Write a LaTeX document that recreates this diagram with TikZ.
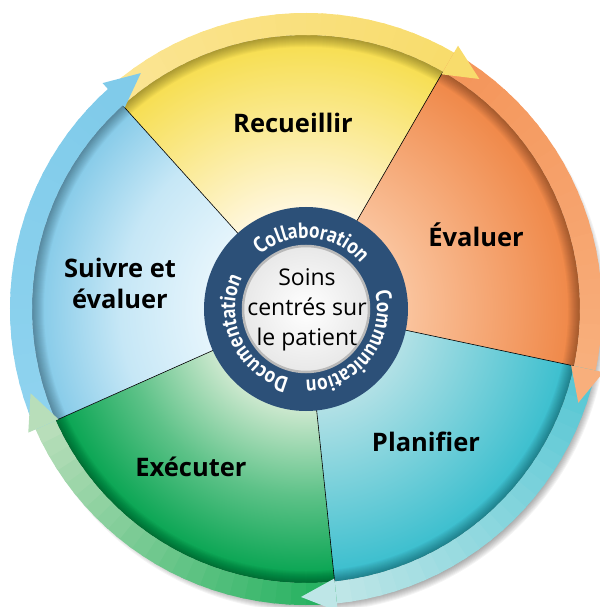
\documentclass[tikz,border=0pt]{standalone}
\usepackage{fontspec}
\setmainfont{Open Sans}
\newfontfamily\ringfont[FakeStretch=0.88]{PT Sans}
\usetikzlibrary{decorations.text}

\definecolor{recin}{HTML}{FFF7DF}
\definecolor{recout}{HTML}{F6DD4A}
\definecolor{evain}{HTML}{FAC49E}
\definecolor{evaout}{HTML}{EF8544}
\definecolor{plain}{HTML}{B3E1E6}
\definecolor{plaout}{HTML}{35BDCD}
\definecolor{exein}{HTML}{CFE9D0}
\definecolor{exeout}{HTML}{00A24D}
\definecolor{suiin}{HTML}{E6F5FC}
\definecolor{suimid}{HTML}{C6E7F6}
\definecolor{suiout}{HTML}{80C8E7}
\definecolor{rectail}{HTML}{FBE594}
\definecolor{rechead}{HTML}{F8DC6C}
\definecolor{evatail}{HTML}{F4955A}
\definecolor{evahead}{HTML}{F8AF7C}
\definecolor{platail}{HTML}{55C6D4}
\definecolor{plahead}{HTML}{BEE6E7}
\definecolor{exetail}{HTML}{22B05E}
\definecolor{exehead}{HTML}{B8DEBA}
\definecolor{suitail}{HTML}{8FD3EF}
\definecolor{suihead}{HTML}{80CBEA}
\definecolor{hubblue}{HTML}{2C5078}

\colorlet{segin}{white}
\colorlet{segmid}{white}
\colorlet{segout}{white}
\pgfdeclareradialshading[segin,segmid,segout]{wedge}{\pgfpoint{0bp}{0bp}}{color(0bp)=(segin); color(9bp)=(segin); color(17bp)=(segmid); color(25bp)=(segout); color(50bp)=(segout)}

\newcommand\ringtext{\color{white}\ringfont\bfseries\fontsize{22}{24}\selectfont}

% band from #1 (tail) to #2 (head), blending #3 into #4
\newcommand\drawband[4]{%
    \foreach \k in {0,...,23} {
        \pgfmathsetmacro\aa{#1+(#2-#1)*\k/24}
        \pgfmathsetmacro\ab{#1+(#2-#1)*(\k+1.3)/24}
        \pgfmathtruncatemacro\pp{100*\k/23}
        \fill[#4!\pp!#3] (\aa:274) arc[start angle=\aa, end angle=\ab, radius=274]
            -- (\ab:296) arc[start angle=\ab, end angle=\aa, radius=296] -- cycle;
    }%
}

\begin{document}
\begin{tikzpicture}[x=1pt, y=1pt,
    stage/.style={font=\bfseries\fontsize{25.5}{31}\selectfont, align=center, inner sep=0pt},
    core/.style={font=\fontsize{23}{30}\selectfont, align=center, inner sep=0pt},
    divider/.style={black, line width=0.6pt}]
    \useasboundingbox (-306,-298) rectangle (293,309);

    % soft shadow under the disk
    \foreach \r in {1,...,9}
        \fill[black, opacity=0.045] (5,-7) circle (287+\r);

    % the five stages
    \begin{scope}
        \clip (0,0) -- (60:274) arc[start angle=60, end angle=132, radius=274] -- cycle;
        \colorlet{segin}{recin}\colorlet{segout}{recout}\colorlet{segmid}{recin!50!recout}
        \shade[shading=wedge] (0,0) circle (274);
    \end{scope}
    \begin{scope}
        \clip (0,0) -- (-12:274) arc[start angle=-12, end angle=60, radius=274] -- cycle;
        \colorlet{segin}{evain}\colorlet{segout}{evaout}\colorlet{segmid}{evain!50!evaout}
        \shade[shading=wedge] (0,0) circle (274);
    \end{scope}
    \begin{scope}
        \clip (0,0) -- (-84:274) arc[start angle=-84, end angle=-12, radius=274] -- cycle;
        \colorlet{segin}{plain}\colorlet{segout}{plaout}\colorlet{segmid}{plain!50!plaout}
        \shade[shading=wedge] (0,0) circle (274);
    \end{scope}
    \begin{scope}
        \clip (0,0) -- (204:274) arc[start angle=204, end angle=276, radius=274] -- cycle;
        \colorlet{segin}{exein}\colorlet{segout}{exeout}\colorlet{segmid}{exein!45!exeout}
        \shade[shading=wedge] (0,0) circle (274);
    \end{scope}
    \begin{scope}
        \clip (0,0) -- (132:274) arc[start angle=132, end angle=204, radius=274] -- cycle;
        \colorlet{segin}{suiin}\colorlet{segout}{suiout}\colorlet{segmid}{suimid}
        \shade[shading=wedge] (0,0) circle (274);
    \end{scope}

    % darker rim inside the stages
    \begin{scope}
        \clip (0,0) circle (274);
        \foreach \w in {2,4,...,24}
            \draw[black, opacity=0.028, line width=\w pt] (0,0) circle (274);
    \end{scope}

    \draw[divider] (60:100) -- (60:274);
    \draw[divider] (132:100) -- (132:274);
    \draw[divider] (204:100) -- (204:274);
    \draw[divider] (276:100) -- (276:274);
    \draw[divider] (348:100) -- (348:274);

    % outer bands
    \drawband{132}{60}{rectail}{rechead}
    \drawband{60}{-12}{evatail}{evahead}
    \drawband{-12}{-84}{platail}{plahead}
    \drawband{276}{204}{exetail}{exehead}
    \drawband{204}{132}{suitail}{suihead}

    % arrow heads
    \fill[rechead] (60:271) -- (60:304) -- (53:288) -- cycle;
    \fill[evahead] (-12:271) -- (-12:304) -- (-19:288) -- cycle;
    \fill[plahead] (-84:271) -- (-84:304) -- (-91:288) -- cycle;
    \fill[exehead] (204:271) -- (204:304) -- (197:288) -- cycle;
    \fill[suihead] (132:271) -- (132:304) -- (125:288) -- cycle;

    % hub
    \fill[hubblue] (0,0) circle (102);
    \shadedraw[inner color=white, outer color=gray!18, draw=gray!55, line width=2.5pt] (0,0) circle (63);

    \path[decorate, decoration={text along path, text align=center, text={|\ringtext|Collaboration}}]
        (145:71) arc[start angle=145, end angle=25, radius=71];
    \path[decorate, decoration={text along path, text align=center, text={|\ringtext|Communication}}]
        (22:71) arc[start angle=22, end angle=-98, radius=71];
    \path[decorate, decoration={text along path, text align=center, text={|\ringtext|Documentation}}]
        (265:71) arc[start angle=265, end angle=145, radius=71];

    \node[core] (soins) at (1,-1) {Soins\\centrés sur\\le patient};

    \node[stage] (recueillir) at (-13,186) {Recueillir};
    \node[stage] (evaluer) at (170,74) {Évaluer};
    \node[stage] (planifier) at (120,-133) {Planifier};
    \node[stage] (executer) at (-115,-158) {Exécuter};
    \node[stage] (suivre) at (-186,26) {Suivre et\\évaluer};
\end{tikzpicture}
\end{document}
